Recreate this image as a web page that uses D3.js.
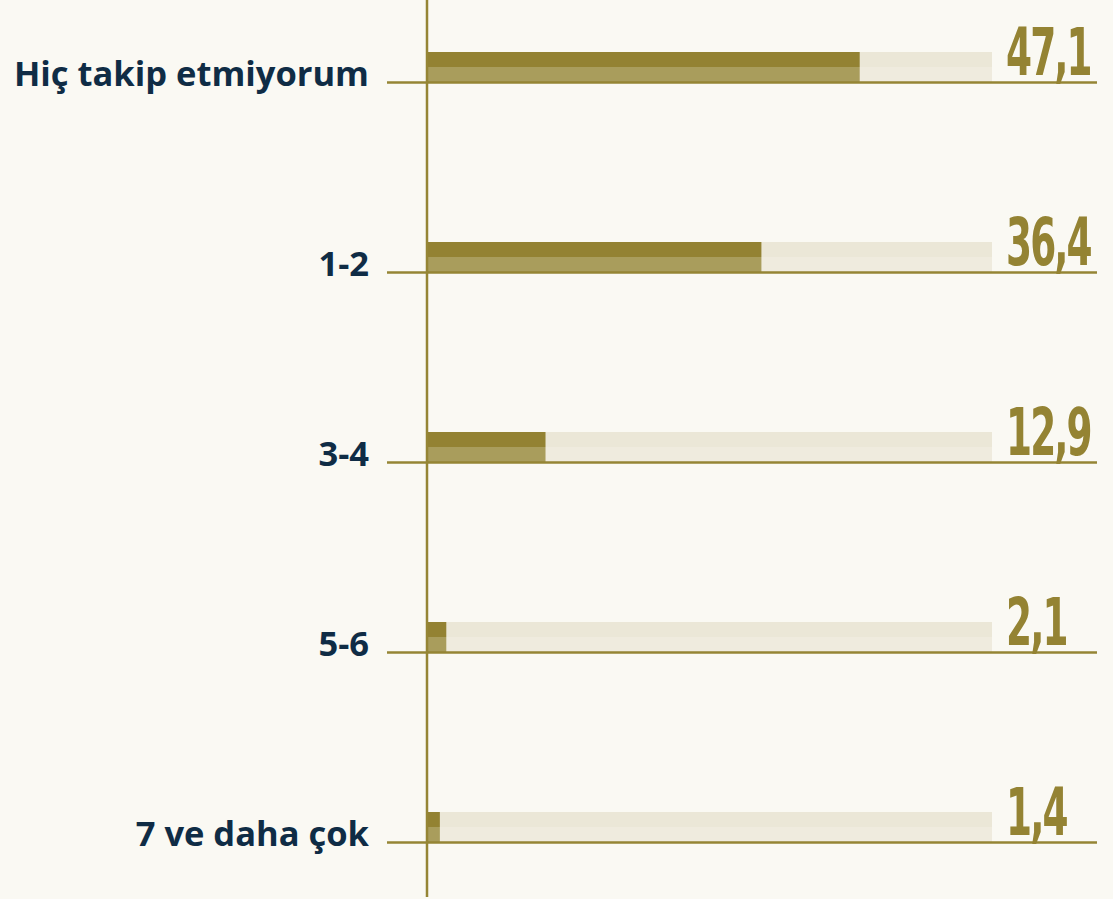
<!DOCTYPE html>
<html>
<head>
<meta charset="utf-8">
<script src="https://cdn.jsdelivr.net/npm/d3@7"></script>
<style>
  html, body { margin: 0; padding: 0; background: #faf9f3; }
</style>
</head>
<body>
<div id="chart"></div>
<script>
// data
const categories = ["Hiç takip etmiyorum", "1-2", "3-4", "5-6", "7 ve daha çok"];
const values = [47.1, 36.4, 12.9, 2.1, 1.4];
const valueLabels = ["47,1", "36,4", "12,9", "2,1", "1,4"];

const canvWidth = 1113, canvHeight = 899;
const axisX = 427, trackEnd = 992;

const svg = d3.select('#chart')
    .append('svg')
    .attr('width', canvWidth)
    .attr('height', canvHeight)
    .style('display', 'block');

// x scale for bar lengths
const xScale = d3.scaleLinear()
    .domain([0, 61.5])
    .range([axisX, trackEnd]);

// row positions (baseline of each row)
const yScale = d3.scalePoint()
    .domain(categories)
    .range([82, 842]);

const barH = 30;

const rows = svg.append('g')
    .selectAll('g')
    .data(categories)
    .enter()
    .append('g')
    .attr('transform', d => `translate(0, ${yScale(d)})`);

// background track, two halves
rows.append('rect')
    .attr('x', axisX)
    .attr('y', -barH)
    .attr('width', trackEnd - axisX)
    .attr('height', barH / 2)
    .attr('fill', '#ebe7d7');
rows.append('rect')
    .attr('x', axisX)
    .attr('y', -barH / 2)
    .attr('width', trackEnd - axisX)
    .attr('height', barH / 2)
    .attr('fill', '#efebde');

// value bars, two halves
rows.append('rect')
    .attr('x', axisX)
    .attr('y', -barH)
    .attr('width', (d, i) => xScale(values[i]) - axisX)
    .attr('height', barH / 2)
    .attr('fill', '#938232');
rows.append('rect')
    .attr('x', axisX)
    .attr('y', -barH / 2)
    .attr('width', (d, i) => xScale(values[i]) - axisX)
    .attr('height', barH / 2)
    .attr('fill', '#a99d5c');

// baseline for each row
rows.append('line')
    .attr('x1', 387)
    .attr('x2', 1097)
    .attr('y1', 0.5)
    .attr('y2', 0.5)
    .attr('stroke', '#958534')
    .attr('stroke-width', 2.5);

// category labels
rows.append('text')
    .attr('x', 369)
    .attr('y', 4)
    .attr('text-anchor', 'end')
    .attr('font-family', "'Open Sans', sans-serif")
    .attr('font-weight', 700)
    .attr('font-size', 34.5)
    .attr('fill', '#0f2c45')
    .text(d => d);

// value labels (condensed)
rows.append('text')
    .attr('transform', 'translate(1006, -7) scale(0.63, 1)')
    .attr('font-family', "'DejaVu Sans Condensed', sans-serif")
    .attr('font-weight', 600)
    .attr('font-size', 66)
    .attr('letter-spacing', -3)
    .attr('fill', '#948333')
    .text((d, i) => valueLabels[i]);

// vertical axis line
svg.append('line')
    .attr('x1', axisX)
    .attr('x2', axisX)
    .attr('y1', 0)
    .attr('y2', 897)
    .attr('stroke', '#958534')
    .attr('stroke-width', 2.5);
</script>
</body>
</html>
